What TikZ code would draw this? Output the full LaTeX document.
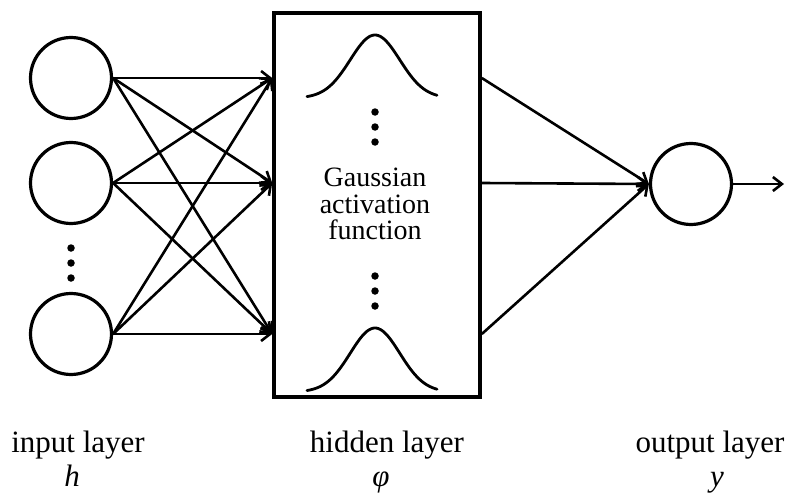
\documentclass[tikz,border=0pt]{standalone}
\usepackage{fontspec}
\setmainfont{Liberation Serif}
\usetikzlibrary{arrows.meta}
\begin{document}
\begin{tikzpicture}[x=1pt,y=-1pt,
  neuron/.style={draw, circle, line width=3.2pt, minimum size=81pt, inner sep=0pt},
  hidbox/.style={draw, rectangle, line width=3.6pt, minimum width=206pt, minimum height=384pt, inner sep=0pt},
  conn/.style={line width=2.6pt, -{Straight Barb[length=9pt,width=14pt,line width=2.6pt]}},
  curve/.style={line width=2.8pt, line join=round, line cap=round},
  dotmark/.style={fill=black, circle, minimum size=7.5pt, inner sep=0pt},
  lbl/.style={font=\fontsize{31}{33}\selectfont, anchor=base, inner sep=0pt},
  sym/.style={font=\fontsize{31}{33}\selectfont\itshape, anchor=base, inner sep=0pt}
]
\useasboundingbox (0,0) rectangle (785,495);

% input neurons
\node[neuron] (i1) at (71,78) {};
\node[neuron] (i2) at (71,183) {};
\node[neuron] (i3) at (71,334) {};
\node[dotmark] (id1) at (71,248) {};
\node[dotmark] (id2) at (71,263) {};
\node[dotmark] (id3) at (71,278) {};

% hidden box
\node[hidbox] (hid) at (377,205) {};
\node[font=\fontsize{28}{26.5}\selectfont, align=center, inner sep=0pt] (gtxt) at (375,204) {Gaussian\\activation\\function};

% gaussians
\draw[curve] plot[domain=307:437, samples=70, smooth] (\x, {98-63*exp(-((\x-375)/35)*((\x-375)/35))});
\draw[curve] plot[domain=307:437, samples=70, smooth] (\x, {392-64*exp(-((\x-375)/35)*((\x-375)/35))});
\node[dotmark] (hd1) at (375,112) {};
\node[dotmark] (hd2) at (375,127) {};
\node[dotmark] (hd3) at (375,142) {};
\node[dotmark] (hd4) at (375,276) {};
\node[dotmark] (hd5) at (375,291) {};
\node[dotmark] (hd6) at (375,306) {};

% output neuron
\node[neuron] (o) at (691,184) {};
\coordinate (oend) at (784,184);

% connections input -> hidden
\foreach \s in {i1,i2,i3}{
  \foreach \t in {i1,i2,i3}{
    \draw[conn] (\s.east) -- (hid.west |- \t.center);
  }
}
% hidden -> output
\foreach \t in {i1,i2,i3}{
  \draw[conn] (hid.east |- \t.center) -- (o.west);
}
\draw[conn] (o.east) -- (oend);

% labels
\node[lbl] (l1) at (78,452) {input layer};
\node[sym] (s1) at (72,486) {h};
\node[lbl] (l2) at (387,452) {hidden layer};
\node[sym] (s2) at (381,486) {φ};
\node[lbl] (l3) at (710,452) {output layer};
\node[sym] (s3) at (717,486) {y};
\end{tikzpicture}
\end{document}
